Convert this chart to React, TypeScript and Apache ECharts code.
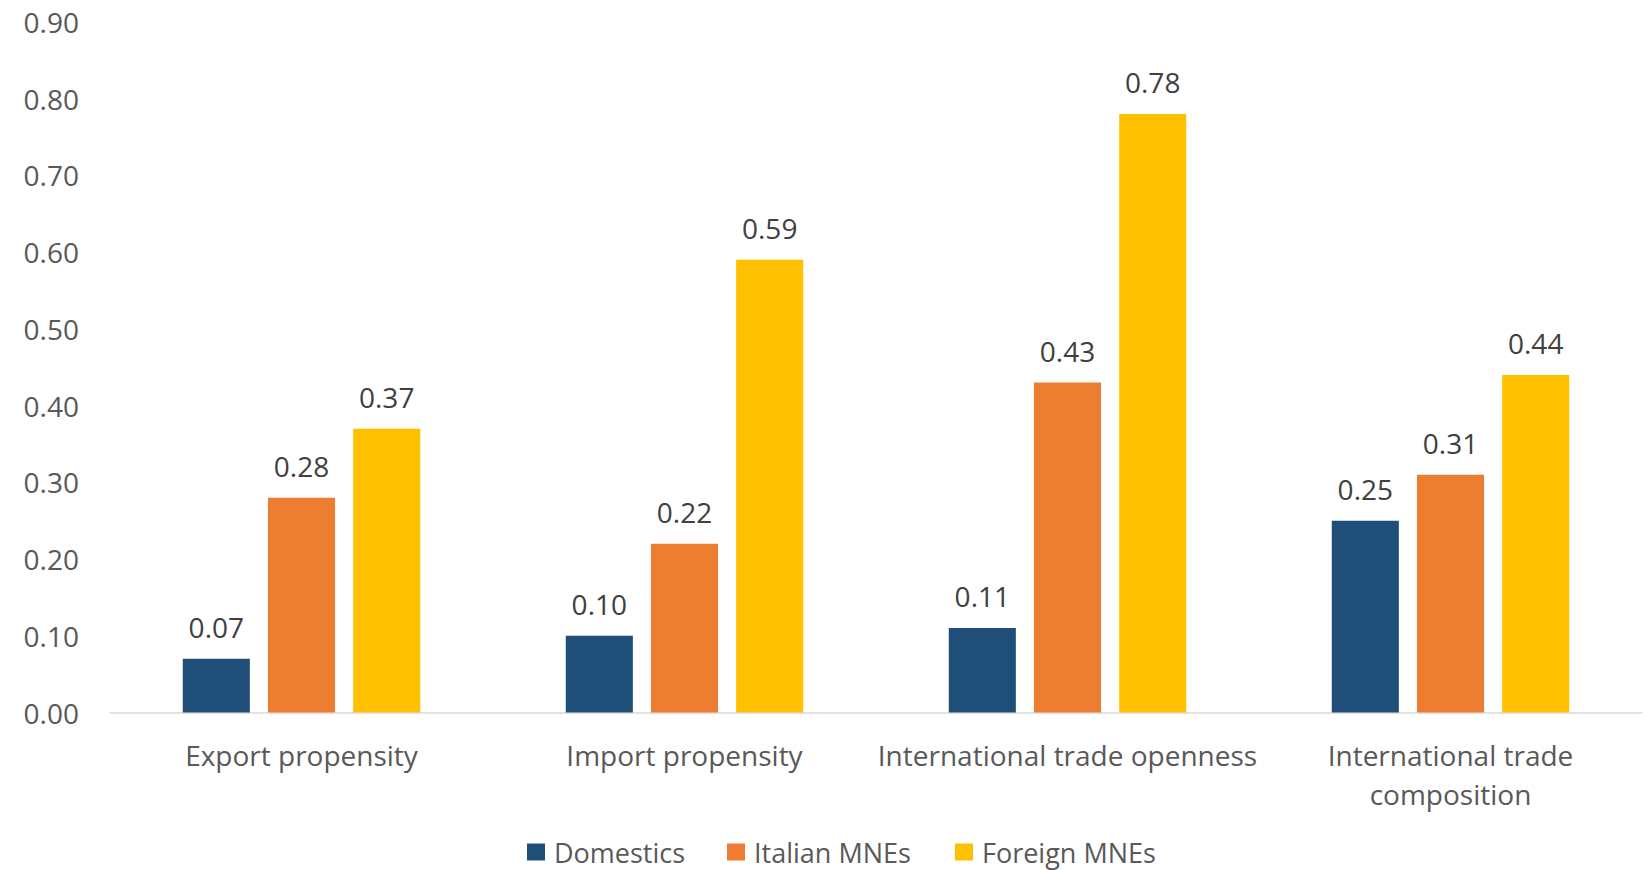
import React, { useEffect, useRef } from "react";
import * as echarts from "echarts";

const categories = [
  "Export propensity",
  "Import propensity",
  "International trade openness",
  "International trade\ncomposition",
];
const seriesNames = ["Domestics", "Italian MNEs", "Foreign MNEs"];
const domestics = [0.07, 0.1, 0.11, 0.25];
const italianMNEs = [0.28, 0.22, 0.43, 0.31];
const foreignMNEs = [0.37, 0.59, 0.78, 0.44];
const colors = ["#1F4E79", "#ED7D31", "#FFC000"];
const legendLefts = [527, 727, 955];

const FONT = "'Open Sans', sans-serif";

export default function App() {
  const ref = useRef<HTMLDivElement>(null);
  useEffect(() => {
    if (!ref.current) return;
    const chart = echarts.init(ref.current, undefined, { renderer: "svg" });
    const values = [domestics, italianMNEs, foreignMNEs];
    chart.setOption({
      animation: false,
      backgroundColor: "#ffffff",
      textStyle: { fontFamily: FONT },
      grid: { left: 110, right: 3, top: 22, bottom: 157.5, containLabel: false },
      legend: seriesNames.map((name, i) => ({
        data: [name],
        left: legendLefts[i],
        top: 838,
        padding: 0,
        itemWidth: 18,
        itemHeight: 17,
        icon: "rect",
        selectedMode: false,
        textStyle: {
          fontFamily: FONT,
          fontSize: 27,
          color: "#595959",
          lineHeight: 28,
          padding: [0, 0, 0, 4],
        },
      })),
      xAxis: {
        type: "category",
        data: categories,
        axisLine: { show: true, lineStyle: { color: "#D9D9D9", width: 1.5 } },
        axisTick: { show: false },
        axisLabel: {
          interval: 0,
          fontFamily: FONT,
          fontSize: 28,
          lineHeight: 39,
          color: "#595959",
          margin: 23,
        },
      },
      yAxis: {
        type: "value",
        min: 0,
        max: 0.9,
        interval: 0.1,
        splitLine: { show: false },
        axisLine: { show: false },
        axisTick: { show: false },
        axisLabel: {
          fontFamily: FONT,
          fontSize: 28,
          color: "#595959",
          margin: 31,
          formatter: (v: number) => v.toFixed(2),
        },
      },
      series: seriesNames.map((name, i) => ({
        name,
        type: "bar",
        data: values[i],
        barGap: "27%",
        barCategoryGap: "38%",
        itemStyle: { color: colors[i] },
        label: {
          show: true,
          position: "top",
          distance: 18,
          fontFamily: FONT,
          fontSize: 28,
          color: "#404040",
          formatter: (p: any) => Number(p.value).toFixed(2),
        },
      })),
    });
    return () => chart.dispose();
  }, []);
  return (
    <div
      ref={ref}
      style={{ position: "absolute", left: 0, top: 0, width: 1645, height: 870 }}
    />
  );
}
